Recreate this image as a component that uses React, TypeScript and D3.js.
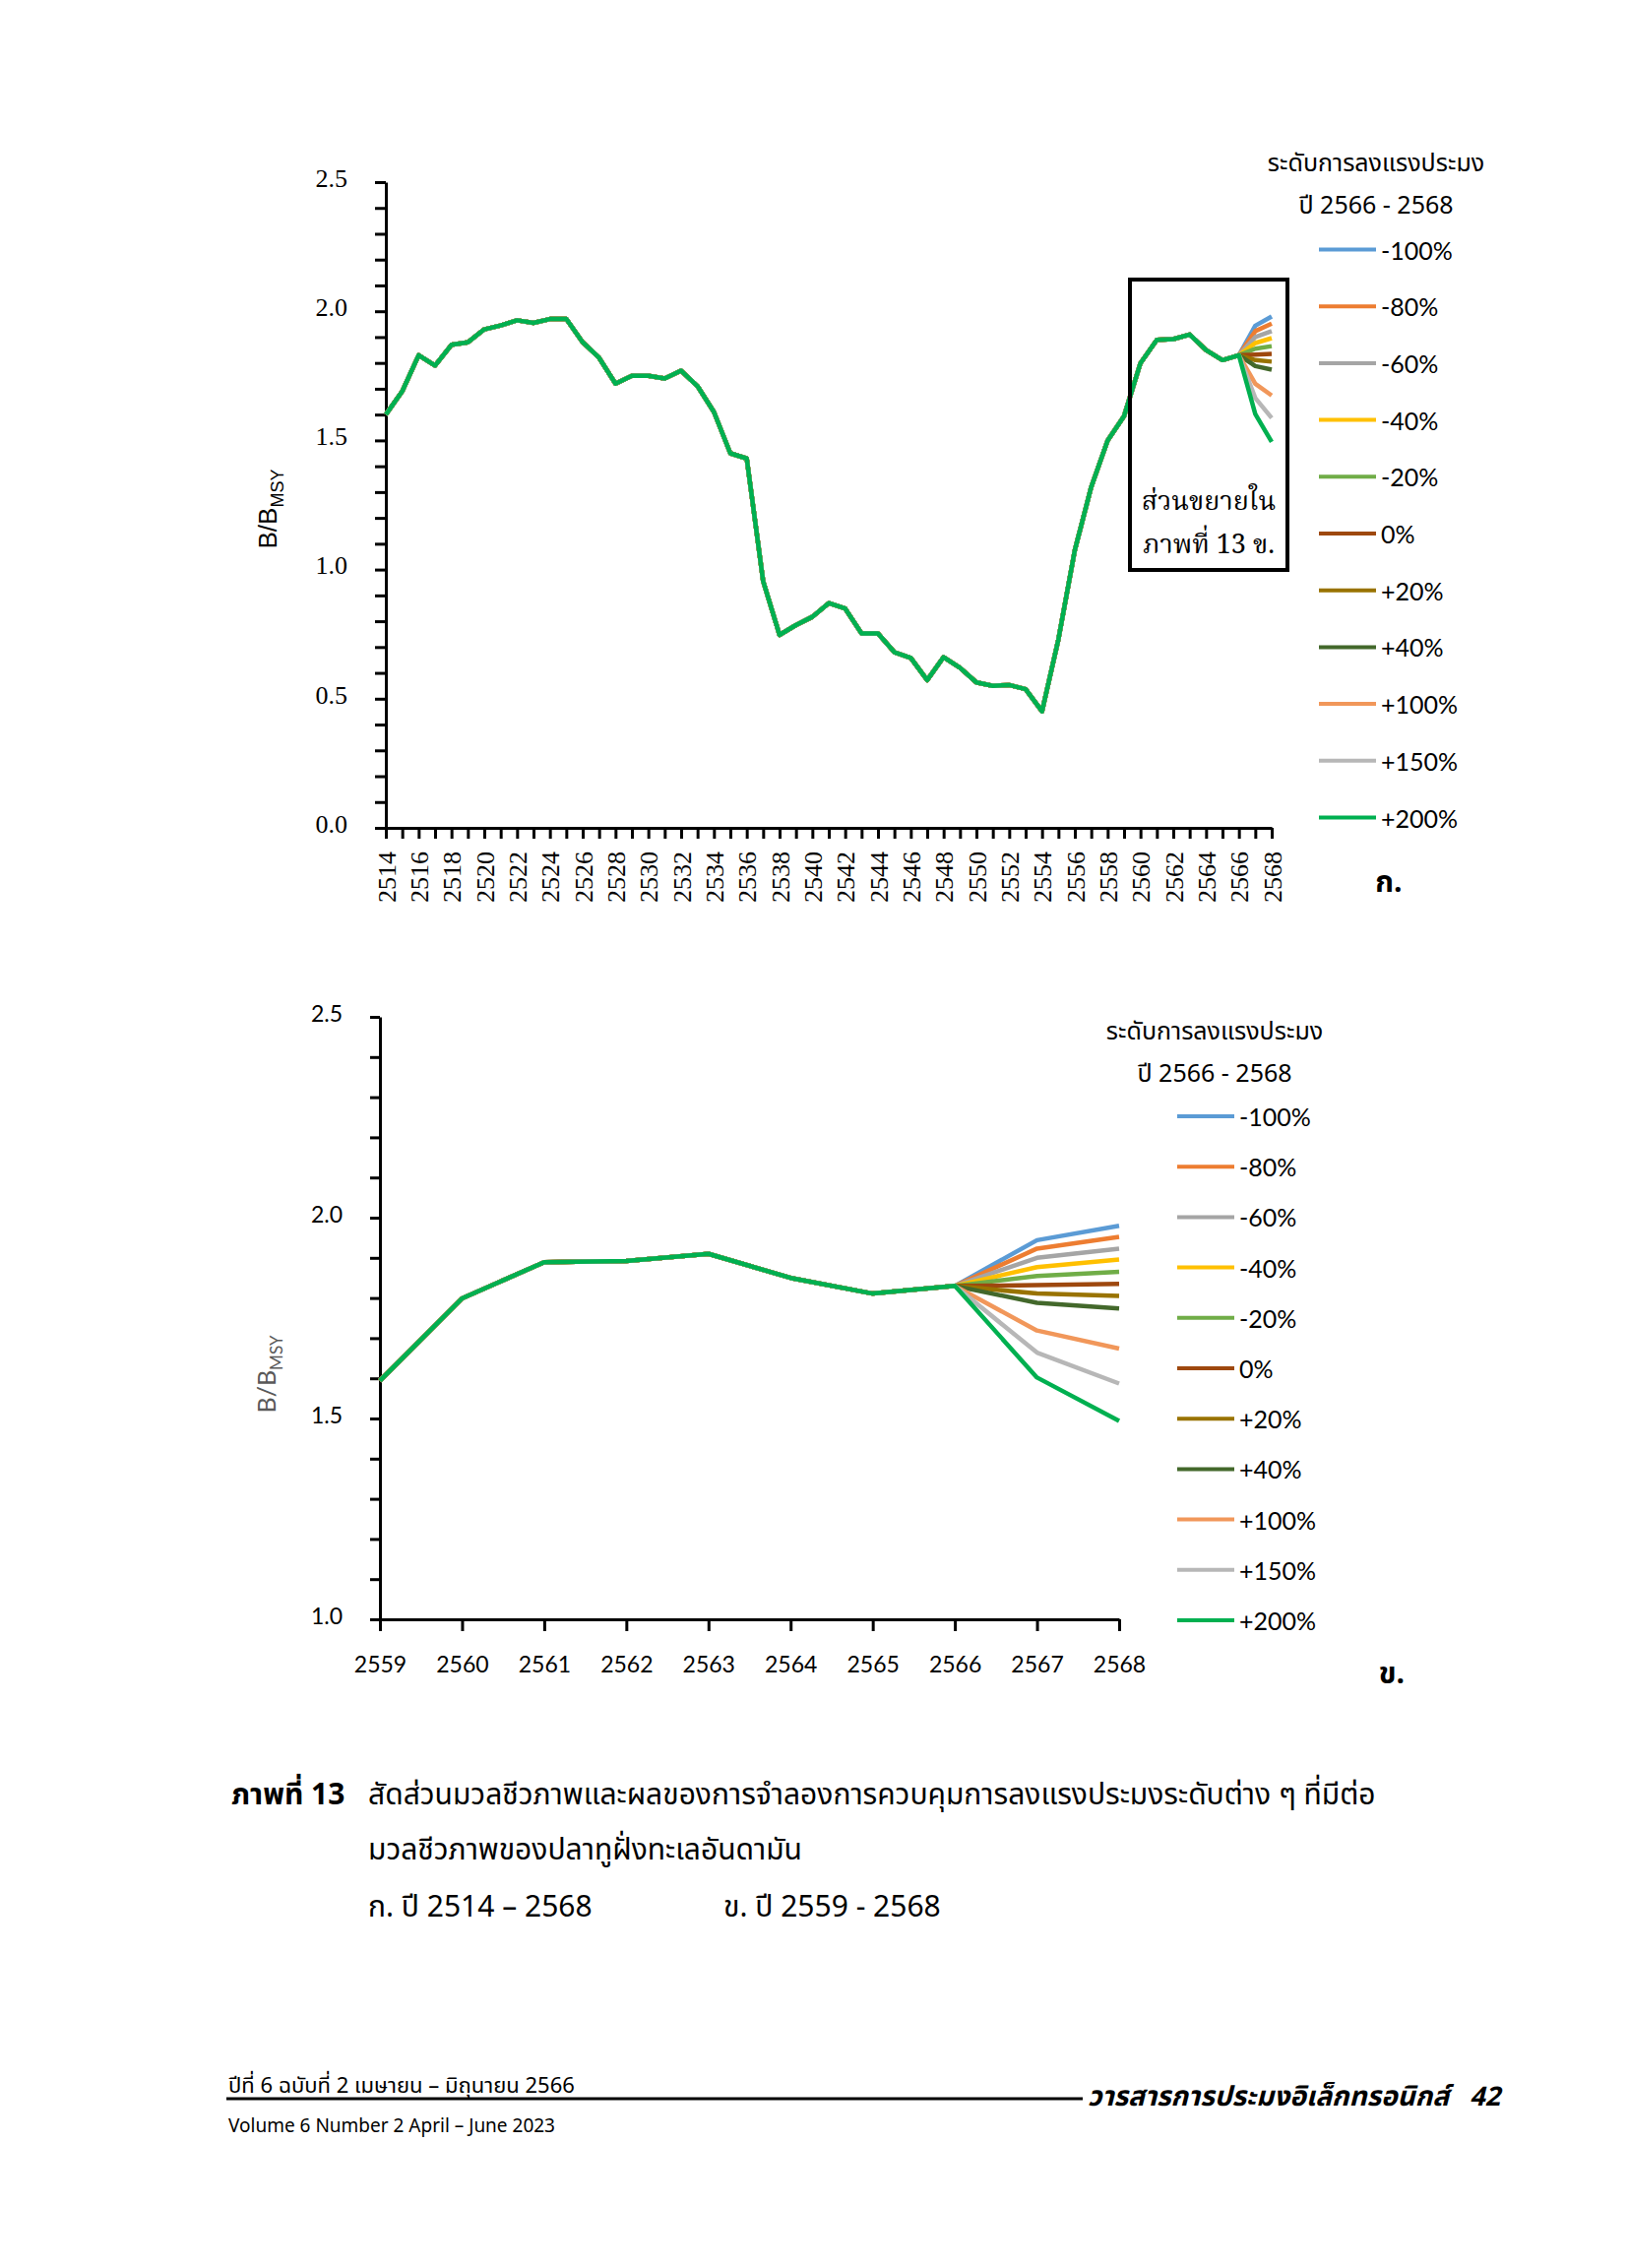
import { useEffect, useRef } from 'react';
import * as d3 from 'd3';

const HIST_START = 2514;
const HISTORY = [
  1.6, 1.69, 1.83, 1.79, 1.87, 1.88, 1.93, 1.945, 1.965, 1.955,
  1.97, 1.97, 1.88, 1.82, 1.72, 1.75, 1.75, 1.74, 1.77, 1.71,
  1.61, 1.45, 1.43, 0.955, 0.747, 0.785, 0.817, 0.87, 0.849, 0.753,
  0.753, 0.68, 0.658, 0.572, 0.661, 0.62, 0.563, 0.55, 0.553, 0.537,
  0.451, 0.73, 1.075, 1.32, 1.5, 1.594, 1.799, 1.889, 1.892, 1.91,
  1.85, 1.811, 1.83,
];

const SCENARIOS = ['-100%', '-80%', '-60%', '-40%', '-20%', '0%', '+20%', '+40%', '+100%', '+150%', '+200%'];
const COLORS = ['#5B9BD5', '#ED7D31', '#A5A5A5', '#FFC000', '#70AD47', '#9E480E', '#997300', '#43682B', '#F1975A', '#B7B7B7', '#00B050'];
const VAL_2567 = [1.944, 1.923, 1.9, 1.877, 1.855, 1.832, 1.811, 1.788, 1.719, 1.664, 1.602];
const VAL_2568 = [1.98, 1.952, 1.923, 1.896, 1.865, 1.835, 1.805, 1.774, 1.674, 1.587, 1.494];

const LEGEND_TITLE = 'ระดับการลงแรงประมง';
const LEGEND_SUB = 'ปี 2566 - 2568';

const THAI = '"Noto Sans Thai", "TH Sarabun New", Garuda, Loma, Lato, "DejaVu Sans", sans-serif';
const THAI_SERIF = '"Noto Serif Thai", "Angsana New", Norasi, "Liberation Serif", serif';
const SANS = 'Lato, "Liberation Sans", sans-serif';

type Pt = [number, number];

function seriesFor(i: number, from: number): Pt[] {
  const pts: Pt[] = HISTORY.map((v, k) => [HIST_START + k, v] as Pt).filter((p) => p[0] >= from);
  pts.push([2567, VAL_2567[i]], [2568, VAL_2568[i]]);
  return pts;
}

export default function App() {
  const svgRef = useRef<SVGSVGElement>(null);

  useEffect(() => {
    if (!svgRef.current) return;
    const svg = d3.select(svgRef.current);
    svg.selectAll('*').remove();

    // ---------- chart ก ----------
    const x1 = d3.scaleLinear().domain([2514, 2568]).range([392, 1292]);
    const y1 = d3.scaleLinear().domain([0, 2.5]).range([841, 185]);
    const g1 = svg.append('g');

    const ax1 = g1
      .append('g')
      .attr('transform', `translate(0,${y1(0)})`)
      .call(
        d3
          .axisBottom(x1)
          .tickValues(d3.range(2514, 2569))
          .tickSize(11)
          .tickSizeOuter(0)
          .tickFormat((d) => ((+d - 2514) % 2 === 0 ? String(d) : ''))
      );
    ax1.selectAll('text')
      .attr('transform', 'rotate(-90)')
      .attr('x', -24)
      .attr('y', 0)
      .attr('dy', '0.35em')
      .attr('text-anchor', 'end')
      .attr('font-family', '"Liberation Serif", serif')
      .attr('font-size', 26)
      .attr('fill', '#000');

    const ay1 = g1
      .append('g')
      .attr('transform', `translate(${x1(2514)},0)`)
      .call(
        d3
          .axisLeft(y1)
          .tickValues(d3.range(0, 26).map((d) => d / 10))
          .tickSize(11)
          .tickSizeOuter(0)
          .tickPadding(28)
          .tickFormat((d) => (Math.round(+d * 10) % 5 === 0 ? d3.format('.1f')(+d) : ''))
      );
    ay1.selectAll('text')
      .attr('y', -4)
      .attr('font-family', '"Liberation Serif", serif')
      .attr('font-size', 26)
      .attr('fill', '#000');

    [ax1, ay1].forEach((a) => {
      a.select('.domain').attr('stroke', '#000').attr('stroke-width', 3);
      a.selectAll('.tick line').attr('stroke', '#000').attr('stroke-width', 3);
    });

    const line1 = d3.line<Pt>().x((d) => x1(d[0])).y((d) => y1(d[1]));
    SCENARIOS.forEach((_, i) => {
      g1.append('path')
        .attr('d', line1(seriesFor(i, 2514)))
        .attr('fill', 'none')
        .attr('stroke', COLORS[i])
        .attr('stroke-width', 4.5)
        .attr('stroke-linejoin', 'round');
    });

    const yl1 = g1.append('text')
      .attr('transform', 'translate(281,517) rotate(-90)')
      .attr('text-anchor', 'middle')
      .attr('font-family', '"Liberation Sans", sans-serif')
      .attr('font-size', 26)
      .attr('fill', '#000');
    yl1.append('tspan').text('B/B');
    yl1.append('tspan').attr('font-size', 18).attr('dy', 7).text('MSY');

    // zoom box
    g1.append('rect')
      .attr('x', 1148).attr('y', 284).attr('width', 160).attr('height', 295)
      .attr('fill', 'none').attr('stroke', '#000').attr('stroke-width', 4);
    ['ส่วนขยายใน', 'ภาพที่ 13 ข.'].forEach((t, k) => {
      g1.append('text')
        .attr('x', 1228).attr('y', 510 + k * 44)
        .attr('text-anchor', 'middle').attr('dominant-baseline', 'central')
        .attr('font-family', THAI_SERIF).attr('font-size', 27)
        .text(t);
    });

    // legend ก
    const leg1 = g1.append('g');
    leg1.append('text').attr('x', 1398).attr('y', 166).attr('text-anchor', 'middle').attr('dominant-baseline', 'central')
      .attr('font-family', THAI).attr('font-size', 25).text(LEGEND_TITLE);
    leg1.append('text').attr('x', 1398).attr('y', 209).attr('text-anchor', 'middle').attr('dominant-baseline', 'central')
      .attr('font-family', THAI).attr('font-size', 25).text(LEGEND_SUB);
    SCENARIOS.forEach((s, i) => {
      const yy = 253.5 + i * 57.7;
      leg1.append('line').attr('x1', 1340).attr('x2', 1398).attr('y1', yy).attr('y2', yy)
        .attr('stroke', COLORS[i]).attr('stroke-width', 4);
      leg1.append('text').attr('x', 1403).attr('y', yy).attr('dominant-baseline', 'central')
        .attr('font-family', SANS).attr('font-size', 25).text(s);
    });
    g1.append('text').attr('x', 1411).attr('y', 897).attr('text-anchor', 'middle').attr('dominant-baseline', 'central')
      .attr('font-family', THAI).attr('font-weight', 'bold').attr('font-size', 30).text('ก.');

    // ---------- chart ข ----------
    const x2 = d3.scaleLinear().domain([2559, 2568]).range([386, 1137]);
    const y2 = d3.scaleLinear().domain([1.0, 2.5]).range([1645, 1033]);
    const g2 = svg.append('g');

    const ax2 = g2
      .append('g')
      .attr('transform', `translate(0,${y2(1)})`)
      .call(d3.axisBottom(x2).tickValues(d3.range(2559, 2569)).tickSize(12).tickSizeOuter(0).tickPadding(26).tickFormat(d3.format('d')));
    ax2.selectAll('text').attr('font-family', SANS).attr('font-size', 23).attr('fill', '#000');

    const ay2 = g2
      .append('g')
      .attr('transform', `translate(${x2(2559)},0)`)
      .call(
        d3
          .axisLeft(y2)
          .tickValues(d3.range(10, 26).map((d) => d / 10))
          .tickSize(10)
          .tickSizeOuter(0)
          .tickPadding(28)
          .tickFormat((d) => (Math.round(+d * 10) % 5 === 0 ? d3.format('.1f')(+d) : ''))
      );
    ay2.selectAll('text')
      .attr('y', -3)
      .attr('font-family', SANS)
      .attr('font-size', 23)
      .attr('fill', '#000');

    [ax2, ay2].forEach((a) => {
      a.select('.domain').attr('stroke', '#000').attr('stroke-width', 3);
      a.selectAll('.tick line').attr('stroke', '#000').attr('stroke-width', 3);
    });

    const line2 = d3.line<Pt>().x((d) => x2(d[0])).y((d) => y2(d[1]));
    SCENARIOS.forEach((_, i) => {
      g2.append('path')
        .attr('d', line2(seriesFor(i, 2559)))
        .attr('fill', 'none')
        .attr('stroke', COLORS[i])
        .attr('stroke-width', 4.5)
        .attr('stroke-linejoin', 'round');
    });

    const yl2 = g2.append('text')
      .attr('transform', 'translate(280,1396) rotate(-90)')
      .attr('text-anchor', 'middle')
      .attr('font-family', SANS)
      .attr('font-size', 25)
      .attr('fill', '#595959');
    yl2.append('tspan').text('B/B');
    yl2.append('tspan').attr('font-size', 17).attr('dy', 7).text('MSY');

    // legend ข
    const leg2 = g2.append('g');
    leg2.append('text').attr('x', 1234).attr('y', 1048).attr('text-anchor', 'middle').attr('dominant-baseline', 'central')
      .attr('font-family', THAI).attr('font-size', 25).text(LEGEND_TITLE);
    leg2.append('text').attr('x', 1234).attr('y', 1091).attr('text-anchor', 'middle').attr('dominant-baseline', 'central')
      .attr('font-family', THAI).attr('font-size', 25).text(LEGEND_SUB);
    SCENARIOS.forEach((s, i) => {
      const yy = 1134 + i * 51.2;
      leg2.append('line').attr('x1', 1196).attr('x2', 1254).attr('y1', yy).attr('y2', yy)
        .attr('stroke', COLORS[i]).attr('stroke-width', 4);
      leg2.append('text').attr('x', 1259).attr('y', yy).attr('dominant-baseline', 'central')
        .attr('font-family', SANS).attr('font-size', 25).text(s);
    });
    g2.append('text').attr('x', 1414).attr('y', 1701).attr('text-anchor', 'middle').attr('dominant-baseline', 'central')
      .attr('font-family', THAI).attr('font-weight', 'bold').attr('font-size', 30).text('ข.');

    // ---------- caption & footer ----------
    const cap = svg.append('g').attr('font-family', THAI).attr('font-size', 30);
    cap.append('text').attr('x', 235).attr('y', 1824).attr('dominant-baseline', 'central').attr('font-weight', 'bold').text('ภาพที่ 13');
    cap.append('text').attr('x', 374).attr('y', 1824).attr('dominant-baseline', 'central')
      .text('สัดส่วนมวลชีวภาพและผลของการจำลองการควบคุมการลงแรงประมงระดับต่าง ๆ ที่มีต่อ');
    cap.append('text').attr('x', 374).attr('y', 1880).attr('dominant-baseline', 'central').text('มวลชีวภาพของปลาทูฝั่งทะเลอันดามัน');
    cap.append('text').attr('x', 374).attr('y', 1938).attr('dominant-baseline', 'central').text('ก. ปี 2514 – 2568');
    cap.append('text').attr('x', 735).attr('y', 1938).attr('dominant-baseline', 'central').text('ข. ปี 2559 - 2568');

    const foot = svg.append('g').attr('font-family', THAI);
    foot.append('text').attr('x', 232).attr('y', 2119).attr('dominant-baseline', 'central').attr('font-size', 22)
      .text('ปีที่ 6 ฉบับที่ 2 เมษายน – มิถุนายน 2566');
    foot.append('line').attr('x1', 230).attr('x2', 1100).attr('y1', 2132).attr('y2', 2132).attr('stroke', '#000').attr('stroke-width', 3);
    foot.append('text').attr('x', 1524).attr('y', 2130).attr('text-anchor', 'end').attr('dominant-baseline', 'central')
      .attr('font-size', 27).attr('font-weight', 'bold').attr('font-style', 'italic').text('42');
    foot.append('text').attr('x', 1472).attr('y', 2130).attr('text-anchor', 'end').attr('dominant-baseline', 'central')
      .attr('font-size', 28).attr('font-weight', 'bold').attr('font-style', 'italic').text('วารสารการประมงอิเล็กทรอนิกส์');
    foot.append('text').attr('x', 232).attr('y', 2160).attr('dominant-baseline', 'central').attr('font-size', 19)
      .text('Volume 6 Number 2 April – June 2023');
  }, []);

  return (
    <div style={{ position: 'absolute', left: 0, top: 0, background: '#fff' }}>
      <svg ref={svgRef} width={1654} height={2304} style={{ display: 'block' }} />
    </div>
  );
}
